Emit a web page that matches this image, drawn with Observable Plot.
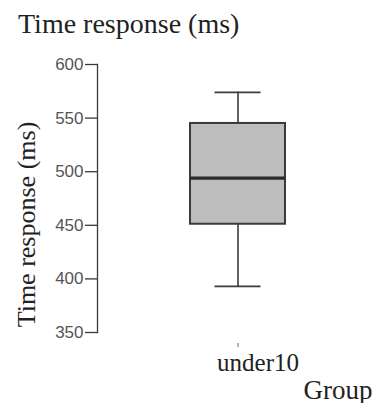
<!DOCTYPE html>
<html>
<head>
<meta charset="utf-8">
<script src="https://cdn.jsdelivr.net/npm/d3@7"></script>
<script src="https://cdn.jsdelivr.net/npm/@observablehq/plot@0.6"></script>
<style>
  html, body { margin: 0; padding: 0; background: #fff; }
  #title { font-family: "Liberation Serif", serif; font-size: 28px; line-height: 36px; padding: 6px 0 0 18px; height: 36px; color: #222; white-space: nowrap; }
</style>
</head>
<body>
<div id="title"></div>
<div id="chart"></div>
<script>
const chartTitle = "Time response (ms)";
const yLabel = "Time response (ms)";
const xLabel = "Group";
const groups = ["under10"];
const minimum = [393];
const q1 = [451];
const median = [494];
const q3 = [545];
const maximum = [574];
const yTicks = [350, 400, 450, 500, 550, 600];

const data = groups.map((g, i) => ({group: g, min: minimum[i], q1: q1[i], median: median[i], q3: q3[i], max: maximum[i]}));

document.getElementById("title").textContent = chartTitle;

const serif = "Liberation Serif, serif";
const sans = "Liberation Sans, Arial, sans-serif";
const ink = "#3a3a3a";

const chart = Plot.plot({
  width: 374,
  height: 361,
  marginTop: 22,
  marginBottom: 71,
  marginLeft: 97,
  marginRight: 0,
  x: {type: "band", domain: groups, padding: 0.485, insetLeft: 3},
  y: {domain: [350, 600]},
  style: {background: "#fff"},
  marks: [
    Plot.frame({anchor: "left", stroke: ink, strokeWidth: 1.3}),
    Plot.axisY({ticks: yTicks, tickSize: 12, tickPadding: 2, fontSize: 17, fontFamily: sans, fill: "#555", stroke: ink, strokeWidth: 1.3, label: null}),
    Plot.axisX({tickSize: 4, dy: 11, text: null, label: null, stroke: "#666"}),
    Plot.axisX({tickSize: 0, dx: 20, dy: 12, fontSize: 25, fontFamily: serif, fill: "#222", label: null}),
    Plot.ruleX(data, {x: "group", y1: "min", y2: "max", stroke: ink, strokeWidth: 1.6}),
    Plot.barY(data, {x: "group", y1: "q1", y2: "q3", fill: "#bdbdbd", stroke: ink, strokeWidth: 2}),
    Plot.tickY(data, {x: "group", y: "median", stroke: "#2a2a2a", strokeWidth: 3.2}),
    Plot.tickY(data, {x: "group", y: "min", stroke: ink, strokeWidth: 1.8, insetLeft: 24.5, insetRight: 24.5}),
    Plot.tickY(data, {x: "group", y: "max", stroke: ink, strokeWidth: 1.8, insetLeft: 24.5, insetRight: 24.5}),
    Plot.text([yLabel], {frameAnchor: "left", rotate: -90, dx: -71, dy: 26, fontSize: 26, fontFamily: serif, fill: "#222", textAnchor: "middle", lineAnchor: "middle"}),
    Plot.text([xLabel], {frameAnchor: "bottom-right", dx: -2, dy: 66, fontSize: 27, fontFamily: serif, fill: "#222", textAnchor: "end", lineAnchor: "bottom"})
  ]
});
document.getElementById("chart").appendChild(chart);
</script>
</body>
</html>
